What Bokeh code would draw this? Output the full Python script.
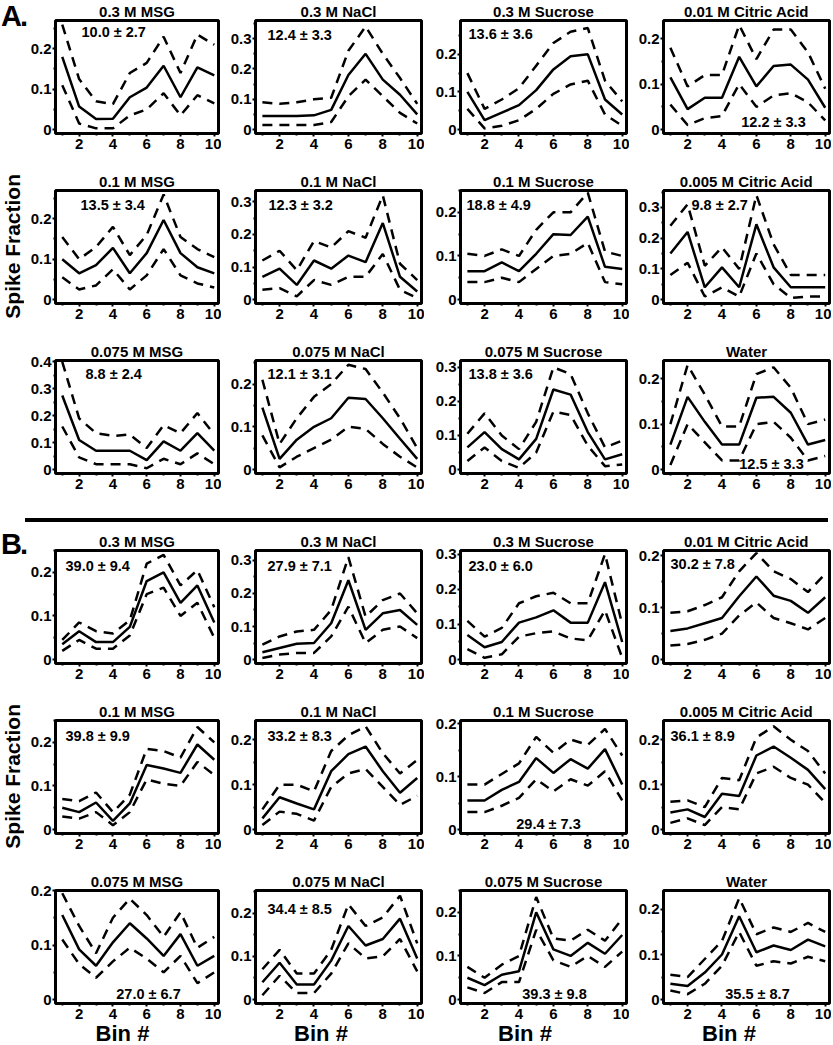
import math
from bokeh.plotting import figure
from bokeh.models import Range1d, FixedTicker, NumeralTickFormatter, Label, Div, ColumnDataSource
from bokeh.layouts import row, column
from bokeh.embed import file_html
from bokeh.resources import INLINE

# ---------------- data ----------------
bins = [1, 2, 3, 4, 5, 6, 7, 8, 9, 10]

titles = ["0.3 M MSG", "0.3 M NaCl", "0.3 M Sucrose", "0.01 M Citric Acid",
          "0.1 M MSG", "0.1 M NaCl", "0.1 M Sucrose", "0.005 M Citric Acid",
          "0.075 M MSG", "0.075 M NaCl", "0.075 M Sucrose", "Water"]

A_notes = ["10.0 ± 2.7", "12.4 ± 3.3", "13.6 ± 3.6", "12.2 ± 3.3",
           "13.5 ± 3.4", "12.3 ± 3.2", "18.8 ± 4.9", "9.8 ± 2.7",
           "8.8 ± 2.4", "12.1 ± 3.1", "13.8 ± 3.6", "12.5 ± 3.3"]
B_notes = ["39.0 ± 9.4", "27.9 ± 7.1", "23.0 ± 6.0", "30.2 ± 7.8",
           "39.8 ± 9.9", "33.2 ± 8.3", "29.4 ± 7.3", "36.1 ± 8.9",
           "27.0 ± 6.7", "34.4 ± 8.5", "39.3 ± 9.8", "35.5 ± 8.7"]

A_mean = [
    [0.18, 0.057, 0.026, 0.027, 0.08, 0.104, 0.158, 0.08, 0.154, 0.134],
    [0.045, 0.045, 0.045, 0.047, 0.065, 0.18, 0.25, 0.165, 0.115, 0.05],
    [0.1, 0.025, 0.045, 0.065, 0.105, 0.16, 0.195, 0.2, 0.08, 0.04],
    [0.115, 0.045, 0.07, 0.07, 0.16, 0.095, 0.14, 0.143, 0.11, 0.048],
    [0.1, 0.065, 0.085, 0.128, 0.065, 0.115, 0.197, 0.115, 0.08, 0.065],
    [0.07, 0.095, 0.045, 0.12, 0.095, 0.135, 0.115, 0.235, 0.07, 0.025],
    [0.065, 0.065, 0.085, 0.065, 0.105, 0.15, 0.148, 0.19, 0.075, 0.07],
    [0.15, 0.22, 0.04, 0.105, 0.04, 0.245, 0.105, 0.04, 0.04, 0.04],
    [0.275, 0.11, 0.07, 0.07, 0.07, 0.035, 0.105, 0.07, 0.135, 0.07],
    [0.145, 0.025, 0.07, 0.1, 0.12, 0.168, 0.165, 0.12, 0.072, 0.025],
    [0.065, 0.11, 0.06, 0.03, 0.09, 0.235, 0.22, 0.11, 0.03, 0.045],
    [0.055, 0.16, 0.105, 0.055, 0.055, 0.158, 0.16, 0.125, 0.055, 0.065],
]
A_upper = [
    [0.26, 0.125, 0.07, 0.063, 0.14, 0.165, 0.23, 0.14, 0.235, 0.21],
    [0.09, 0.085, 0.09, 0.1, 0.105, 0.26, 0.34, 0.25, 0.17, 0.085],
    [0.15, 0.055, 0.08, 0.11, 0.17, 0.23, 0.26, 0.27, 0.13, 0.075],
    [0.18, 0.095, 0.12, 0.12, 0.23, 0.155, 0.22, 0.22, 0.17, 0.09],
    [0.155, 0.1, 0.13, 0.18, 0.11, 0.16, 0.26, 0.155, 0.125, 0.105],
    [0.12, 0.15, 0.09, 0.18, 0.16, 0.21, 0.19, 0.32, 0.11, 0.06],
    [0.105, 0.1, 0.115, 0.1, 0.16, 0.2, 0.2, 0.245, 0.11, 0.1],
    [0.24, 0.31, 0.11, 0.17, 0.1, 0.34, 0.18, 0.08, 0.08, 0.08],
    [0.4, 0.19, 0.135, 0.125, 0.13, 0.08, 0.165, 0.135, 0.21, 0.13],
    [0.21, 0.06, 0.12, 0.17, 0.2, 0.245, 0.235, 0.18, 0.12, 0.05],
    [0.105, 0.165, 0.1, 0.06, 0.14, 0.3, 0.28, 0.165, 0.065, 0.085],
    [0.1, 0.23, 0.165, 0.095, 0.095, 0.21, 0.225, 0.18, 0.1, 0.11],
]
A_lower = [
    [0.11, 0.015, 0.003, 0.003, 0.035, 0.05, 0.09, 0.035, 0.085, 0.065],
    [0.015, 0.015, 0.015, 0.015, 0.025, 0.11, 0.165, 0.11, 0.055, 0.02],
    [0.055, 0.003, 0.01, 0.025, 0.055, 0.095, 0.12, 0.13, 0.04, 0.01],
    [0.055, 0.01, 0.025, 0.03, 0.1, 0.05, 0.075, 0.08, 0.06, 0.02],
    [0.055, 0.025, 0.035, 0.075, 0.025, 0.06, 0.125, 0.06, 0.04, 0.03],
    [0.03, 0.035, 0.01, 0.06, 0.045, 0.07, 0.07, 0.14, 0.03, 0.005],
    [0.04, 0.04, 0.05, 0.04, 0.07, 0.1, 0.105, 0.13, 0.04, 0.035],
    [0.08, 0.12, 0.01, 0.04, 0.01, 0.15, 0.05, 0.005, 0.01, 0.01],
    [0.16, 0.045, 0.02, 0.02, 0.02, 0.005, 0.04, 0.02, 0.06, 0.02],
    [0.08, 0.005, 0.03, 0.05, 0.07, 0.1, 0.095, 0.06, 0.03, 0.005],
    [0.025, 0.065, 0.025, 0.005, 0.05, 0.17, 0.16, 0.07, 0.01, 0.015],
    [0.01, 0.1, 0.06, 0.02, 0.02, 0.1, 0.105, 0.07, 0.02, 0.03],
]
A_ymax = [0.27, 0.36, 0.29, 0.24, 0.27, 0.335, 0.25, 0.355, 0.405, 0.255, 0.32, 0.24]

B_mean = [
    [0.035, 0.065, 0.04, 0.04, 0.075, 0.18, 0.2, 0.13, 0.17, 0.085],
    [0.022, 0.035, 0.048, 0.05, 0.11, 0.24, 0.09, 0.14, 0.15, 0.105],
    [0.07, 0.035, 0.05, 0.105, 0.12, 0.14, 0.105, 0.105, 0.22, 0.05],
    [0.055, 0.06, 0.07, 0.08, 0.122, 0.16, 0.123, 0.113, 0.09, 0.12],
    [0.05, 0.04, 0.062, 0.02, 0.06, 0.148, 0.14, 0.13, 0.195, 0.16],
    [0.025, 0.072, 0.058, 0.045, 0.13, 0.168, 0.185, 0.13, 0.082, 0.115],
    [0.055, 0.055, 0.075, 0.09, 0.135, 0.107, 0.133, 0.115, 0.152, 0.085],
    [0.038, 0.045, 0.028, 0.08, 0.075, 0.165, 0.185, 0.16, 0.133, 0.09],
    [0.155, 0.092, 0.062, 0.105, 0.14, 0.112, 0.08, 0.12, 0.062, 0.08],
    [0.04, 0.085, 0.035, 0.035, 0.09, 0.17, 0.125, 0.14, 0.187, 0.095],
    [0.05, 0.033, 0.057, 0.065, 0.2, 0.115, 0.1, 0.13, 0.105, 0.148],
    [0.035, 0.03, 0.06, 0.1, 0.185, 0.105, 0.12, 0.11, 0.133, 0.118],
]
B_upper = [
    [0.045, 0.085, 0.065, 0.06, 0.09, 0.22, 0.24, 0.17, 0.205, 0.12],
    [0.045, 0.07, 0.085, 0.09, 0.15, 0.31, 0.13, 0.18, 0.2, 0.14],
    [0.11, 0.065, 0.09, 0.16, 0.18, 0.19, 0.16, 0.16, 0.3, 0.1],
    [0.09, 0.093, 0.105, 0.12, 0.17, 0.205, 0.17, 0.155, 0.13, 0.165],
    [0.07, 0.065, 0.085, 0.04, 0.08, 0.185, 0.18, 0.165, 0.235, 0.2],
    [0.045, 0.1, 0.1, 0.085, 0.175, 0.21, 0.23, 0.17, 0.125, 0.155],
    [0.085, 0.085, 0.105, 0.125, 0.175, 0.145, 0.17, 0.16, 0.19, 0.14],
    [0.062, 0.065, 0.05, 0.115, 0.11, 0.205, 0.23, 0.2, 0.175, 0.125],
    [0.195, 0.135, 0.085, 0.15, 0.185, 0.155, 0.115, 0.16, 0.095, 0.115],
    [0.07, 0.115, 0.06, 0.06, 0.115, 0.22, 0.17, 0.19, 0.24, 0.13],
    [0.075, 0.05, 0.08, 0.1, 0.235, 0.14, 0.135, 0.16, 0.135, 0.185],
    [0.055, 0.05, 0.09, 0.13, 0.225, 0.145, 0.16, 0.15, 0.17, 0.15],
]
B_lower = [
    [0.02, 0.045, 0.025, 0.025, 0.055, 0.15, 0.165, 0.1, 0.13, 0.05],
    [0.005, 0.015, 0.02, 0.02, 0.07, 0.16, 0.05, 0.09, 0.1, 0.065],
    [0.03, 0.005, 0.015, 0.065, 0.075, 0.08, 0.06, 0.055, 0.14, 0.005],
    [0.027, 0.03, 0.038, 0.05, 0.085, 0.11, 0.08, 0.07, 0.058, 0.08],
    [0.03, 0.025, 0.04, 0.01, 0.04, 0.115, 0.105, 0.1, 0.155, 0.125],
    [0.01, 0.04, 0.035, 0.02, 0.095, 0.125, 0.135, 0.095, 0.055, 0.075],
    [0.033, 0.033, 0.045, 0.06, 0.095, 0.072, 0.095, 0.083, 0.11, 0.055],
    [0.015, 0.025, 0.01, 0.05, 0.045, 0.125, 0.14, 0.115, 0.1, 0.06],
    [0.11, 0.065, 0.04, 0.07, 0.095, 0.075, 0.05, 0.08, 0.03, 0.05],
    [0.01, 0.055, 0.015, 0.015, 0.06, 0.13, 0.095, 0.1, 0.14, 0.065],
    [0.028, 0.015, 0.04, 0.04, 0.16, 0.09, 0.075, 0.1, 0.075, 0.11],
    [0.02, 0.012, 0.035, 0.075, 0.15, 0.075, 0.085, 0.08, 0.095, 0.085],
]
B_ymax = [0.25, 0.33, 0.31, 0.21, 0.25, 0.243, 0.206, 0.243, 0.2, 0.252, 0.25, 0.242]

y_ticks = [0, 0.1, 0.2, 0.3, 0.4]
y_minor = [0.05, 0.15, 0.25, 0.35]
x_ticks = [2, 4, 6, 8, 10]
x_minor = [1, 3, 5, 7, 9]

# ---------------- layout / style (not data) ----------------
FONT = "Liberation Sans"
FW, FH = 166, 114
LEFT_W = 27                     # label column width
BORDER_L = [25, 34, 36, 34]     # left border per column
BORDER_R = [3, 3, 3, 2]
BT = 19                         # top border (title)
BB = 37                         # bottom border (tick labels)
BB_LAST = 21                    # bottom border, last row (Bin # goes below in a div)
BIN_H = 20
# note placement: (dx from frame left, dy from frame top, align) in px
A_place = [(26, 12, "left"), (12, 15, "left"), (8, 14, "left"), (110, 102, "center"),
           (25, 15, "left"), (13, 15, "left"), (6, 15, "left"), (28, 15, "left"),
           (30, 14, "left"), (12, 14, "left"), (8, 14, "left"), (108, 104, "center")]
B_place = [(10, 16, "left"), (12, 16, "left"), (8, 16, "left"), (7, 14, "left"),
           (10, 16, "left"), (12, 16, "left"), (88, 104, "center"), (7, 16, "left"),
           (93, 104, "center"), (12, 19, "left"), (94, 104, "center"), (94, 104, "center")]


def make_panel(i, mean, up, lo, ymax, note, place, last_row):
    col = i % 4
    bl = BORDER_L[col]
    br = BORDER_R[col]
    bb = BB_LAST if last_row else BB
    p = figure(width=bl + FW + br, height=BT + FH + bb, output_backend="svg",
               toolbar_location=None, x_range=Range1d(0.6, 10.25),
               y_range=Range1d(-0.036 * ymax, ymax),
               min_border_left=bl, min_border_right=br,
               min_border_top=BT, min_border_bottom=bb, title=titles[i])
    p.title.text_font = FONT
    p.title.text_font_size = "15px"
    p.title.text_font_style = "bold"
    p.title.text_color = "black"
    p.title.align = "center"
    p.title.standoff = 1
    p.xgrid.visible = False
    p.ygrid.visible = False
    p.outline_line_color = "black"
    p.outline_line_width = 3
    p.background_fill_color = "white"
    p.border_fill_color = None
    p.xaxis.ticker = FixedTicker(ticks=x_ticks, minor_ticks=x_minor)
    p.yaxis.ticker = FixedTicker(ticks=y_ticks, minor_ticks=y_minor)
    p.yaxis.formatter = NumeralTickFormatter(format="0.[0]")
    for ax in (p.xaxis, p.yaxis):
        ax.axis_line_color = None
        ax.major_tick_line_color = "black"
        ax.major_tick_line_width = 2
        ax.major_tick_out = 3
        ax.major_tick_in = 0
        ax.minor_tick_line_color = "black"
        ax.minor_tick_line_width = 2
        ax.minor_tick_out = 2
        ax.minor_tick_in = 0
        ax.major_label_text_font = FONT
        ax.major_label_text_font_size = "15px"
        ax.major_label_text_font_style = "bold"
        ax.major_label_text_color = "black"
        ax.major_label_standoff = 2
    p.yaxis.major_label_standoff = 1
    src = ColumnDataSource(dict(bin=bins, mean=mean, upper=up, lower=lo))
    p.line("bin", "upper", source=src, line_color="black", line_width=2.5, line_dash="10 7")
    p.line("bin", "lower", source=src, line_color="black", line_width=2.5, line_dash="10 7")
    p.line("bin", "mean", source=src, line_color="black", line_width=2.5)
    dx, dy, al = place
    p.add_layout(Label(x=dx, y=FH - dy, x_units="screen", y_units="screen",
                       text=note, text_align=al, text_baseline="middle",
                       text_font=FONT, text_font_size="14.5px", text_font_style="bold",
                       text_color="black"))
    return p


DIV_STYLES = {"overflow": "visible", "z-index": "3"}


def letter_div(letter, height, top_pad):
    html = ('<div style="padding-left:1px;margin-top:%dpx;font-family:\'Liberation Sans\';'
            'font-weight:bold;font-size:29px;letter-spacing:-2px;line-height:30px;'
            'white-space:nowrap;color:black">%s</div>'
            % (top_pad, letter))
    return Div(text=html, width=LEFT_W, height=height, styles=DIV_STYLES, margin=0)


def spike_div(height):
    center = BT + FH / 2
    html = ('<div style="width:26px;height:%dpx;display:flex;align-items:center;justify-content:center">'
            '<div style="writing-mode:vertical-rl;transform:rotate(180deg);font-family:\'Liberation Sans\';'
            'font-weight:bold;font-size:21px;white-space:nowrap;color:black">Spike Fraction</div></div>'
            % int(2 * center))
    return Div(text=html, width=LEFT_W, height=height, styles=DIV_STYLES, margin=0)


def section(letter, notes, mean, upper, lower, ymax, places, is_b):
    figs = []
    for i in range(12):
        figs.append(make_panel(i, mean[i], upper[i], lower[i], ymax[i], notes[i],
                               places[i], is_b and i >= 8))
    h = BT + FH + BB
    h_last = BT + FH + (BB_LAST if is_b else BB)
    pad = -1 if is_b else 1
    rows = [
        row(letter_div(letter, h, pad), *figs[0:4]),
        row(spike_div(h), *figs[4:8]),
        row(Div(text="", width=LEFT_W, height=h_last, margin=0), *figs[8:12]),
    ]
    if is_b:
        cells = [Div(text="", width=LEFT_W, height=BIN_H, margin=0)]
        for col in range(4):
            bl = BORDER_L[col]
            html = ('<div style="padding-left:%dpx;width:%dpx;text-align:center;'
                    'font-family:\'Liberation Sans\';font-weight:bold;font-size:22px;'
                    'line-height:20px;white-space:nowrap;color:black">Bin #</div>' % (bl, FW))
            cells.append(Div(text=html, width=bl + FW + BORDER_R[col], height=BIN_H, margin=0))
        rows.append(row(*cells))
    return rows


rows_a = section("A.", A_notes, A_mean, A_upper, A_lower, A_ymax, A_place, False)
rows_b = section("B.", B_notes, B_mean, B_upper, B_lower, B_ymax, B_place, True)

total_w = LEFT_W + sum(BORDER_L) + 4 * FW + sum(BORDER_R)
sep = Div(text='<div style="margin-left:25px;margin-top:5px;width:803px;height:4px;background:black"></div>',
          width=total_w, height=20, margin=0)

layout = column(*rows_a, sep, *rows_b)

open("out.html", "w").write(file_html(layout, INLINE))
